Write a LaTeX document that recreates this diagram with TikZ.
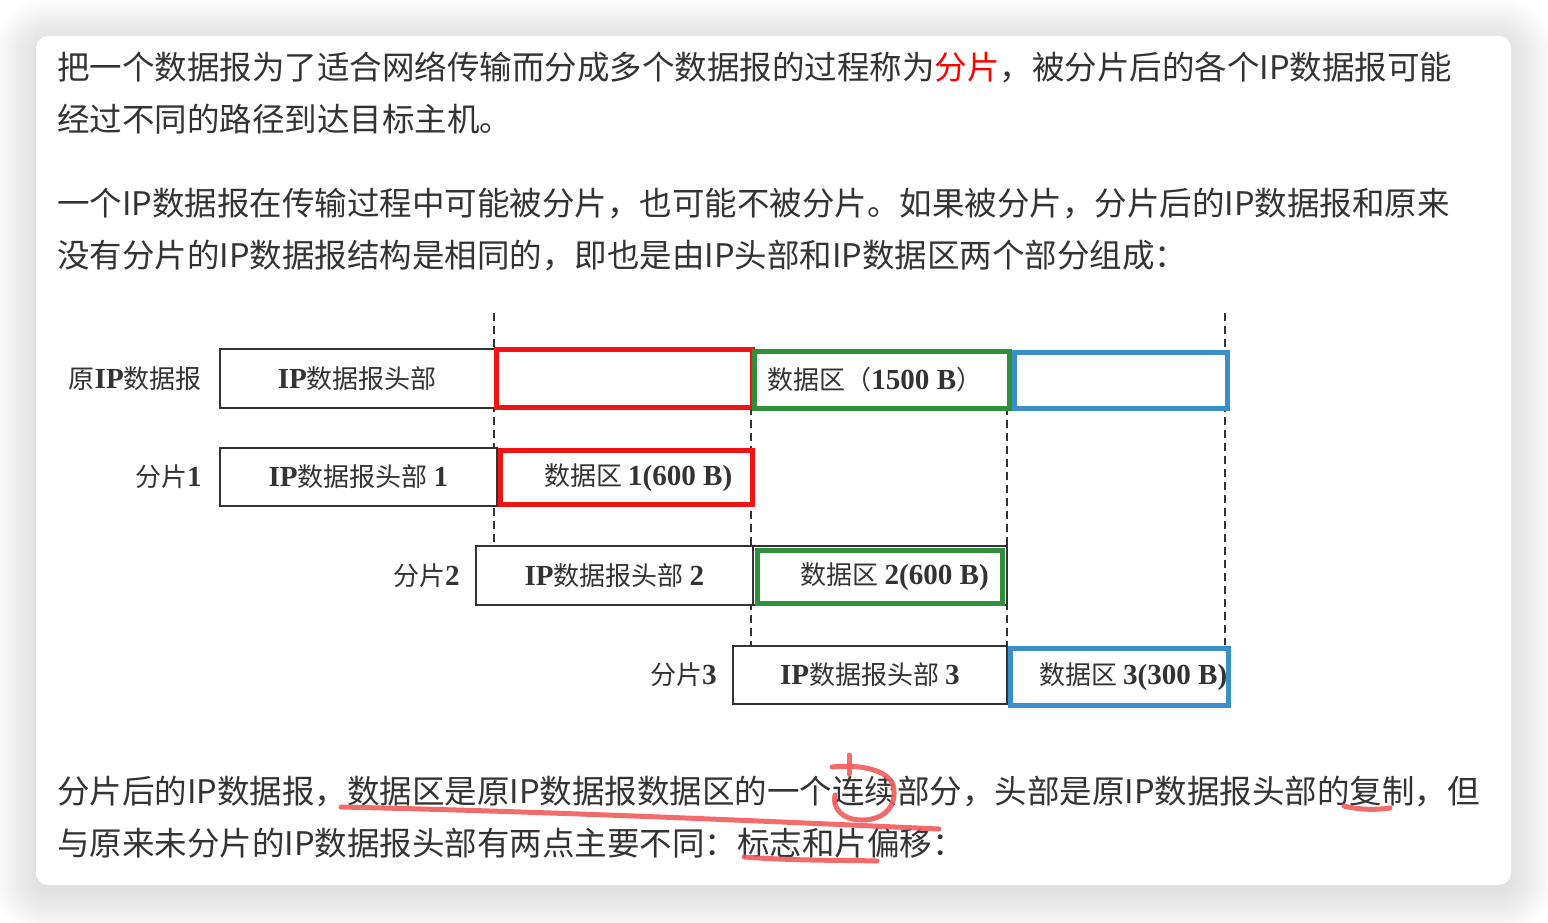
\documentclass[tikz,border=0pt]{standalone}
\usepackage{fontspec}
\setmainfont{Noto Sans CJK SC}
\newfontfamily\tnr[Scale=1.12]{Liberation Serif}
\usetikzlibrary{positioning}
\definecolor{ink}{HTML}{333333}
\definecolor{keyred}{HTML}{FF0000}
\definecolor{cutred}{HTML}{F21212}
\definecolor{cutgreen}{HTML}{2F8F3B}
\definecolor{cutblue}{HTML}{3A8FC8}
\definecolor{pen}{HTML}{F25C5C}
\newcommand{\serifb}[1]{{\tnr\bfseries #1}}

\begin{document}
\begin{tikzpicture}[x=1pt,y=-1pt,
  para/.style={anchor=base west,inner sep=0pt,text=ink,font=\fontsize{32.5}{40}\selectfont},
  lbl/.style={inner sep=0pt,text=ink,font=\fontsize{26}{30}\selectfont},
  hdrbox/.style={draw=ink,line width=1.8pt,fill=white,anchor=north west,inner sep=0pt,
    text=ink,font=\fontsize{26}{30}\selectfont},
  cutbox/.style={draw=#1,line width=4.5pt,fill=white,anchor=north west,inner sep=0pt},
  guide/.style={draw=ink,line width=1.6pt,dash pattern=on 8pt off 5pt},
  penline/.style={draw=pen,line width=5pt,line cap=round,line join=round,opacity=0.9}]
  \useasboundingbox (0,0) rectangle (1548,922);
  \fill[white] (0,0) rectangle (1548,922);

  % Schatten und Karte
  \foreach \s [evaluate=\s as \r using 12+1.5*\s] in {1,...,30}
    \fill[black,opacity=0.0055,rounded corners=\r pt]
      (36-1.5*\s,42-1.5*\s) rectangle (1511+1.5*\s,891+1.5*\s);
  \fill[white,rounded corners=12pt] (36,36) rectangle (1511,885);

  % Absaetze
  \node[para] (p1) at (57,79) {把一个数据报为了适合网络传输而分成多个数据报的过程称为{\color{keyred}分片}，被分片后的各个IP数据报可能};
  \node[para] (p2) at (57,131) {经过不同的路径到达目标主机。};
  \node[para] (p3) at (57,215) {一个IP数据报在传输过程中可能被分片，也可能不被分片。如果被分片，分片后的IP数据报和原来};
  \node[para] (p4) at (57,267) {没有分片的IP数据报结构是相同的，即也是由IP头部和IP数据区两个部分组成：};
  \node[para] (p5) at (57,803) {分片后的IP数据报，数据区是原IP数据报数据区的一个连续部分，头部是原IP数据报头部的复制，但};
  \node[para] (p6) at (57,855) {与原来未分片的IP数据报头部有两点主要不同：标志和片偏移：};

  % Hilfslinien
  \coordinate (g1a) at (494,313);  \coordinate (g1b) at (494,545);
  \coordinate (g2a) at (751,407);  \coordinate (g2b) at (751,645);
  \coordinate (g3a) at (1007,407); \coordinate (g3b) at (1007,645);
  \coordinate (g4a) at (1225,313); \coordinate (g4b) at (1225,645);
  \draw[guide] (g1a) -- (g1b);
  \draw[guide] (g2a) -- (g2b);
  \draw[guide] (g3a) -- (g3b);
  \draw[guide] (g4a) -- (g4b);

  % Original
  \node[hdrbox,minimum width=275pt,minimum height=59pt] (hdr0) at (219,348) {\serifb{IP}数据报头部};
  \node[cutbox=cutred,minimum width=256pt,minimum height=58pt] (red0) at (494,347) {};
  \node[cutbox=cutgreen,minimum width=255pt,minimum height=57pt] (green0) at (752,349) {};
  \node[cutbox=cutblue,minimum width=213pt,minimum height=56pt] (blue0) at (1012,350) {};
  \node[lbl,xshift=-7pt] (t0) at (green0) {数据区（\serifb{1500 B}）};
  \node[lbl,left=17pt of hdr0] (n0) {原\serifb{IP}数据报};

  % Fragment 1
  \node[hdrbox,minimum width=277pt,minimum height=58pt] (hdr1) at (219,447) {\serifb{IP}数据报头部 \serifb{1}};
  \node[cutbox=cutred,minimum width=252pt,minimum height=54pt] (red1) at (498,448) {};
  \node[lbl,xshift=12pt] (t1) at (red1) {数据区 \serifb{1(600 B)}};
  \node[lbl,left=17pt of hdr1] (n1) {分片\serifb{1}};

  % Fragment 2
  \node[hdrbox,minimum width=277pt,minimum height=59pt] (hdr2) at (475,545) {\serifb{IP}数据报头部 \serifb{2}};
  \node[hdrbox,minimum width=254pt,minimum height=59pt] (rest2) at (752,545) {};
  \node[cutbox=cutgreen,minimum width=245pt,minimum height=53pt] (green2) at (755,548) {};
  \node[lbl,xshift=15pt] (t2) at (green2) {数据区 \serifb{2(600 B)}};
  \node[lbl,left=15pt of hdr2] (n2) {分片\serifb{2}};

  % Fragment 3
  \node[hdrbox,minimum width=274pt,minimum height=58pt] (hdr3) at (732,645) {\serifb{IP}数据报头部 \serifb{3}};
  \node[cutbox=cutblue,minimum width=218pt,minimum height=57pt] (blue3) at (1008,646) {};
  \node[lbl,xshift=14pt] (t3) at (blue3) {数据区 \serifb{3(300 B)}};
  \node[lbl,left=15pt of hdr3] (n3) {分片\serifb{3}};

  % Anmerkungen von Hand
  \draw[penline] (341,807) .. controls (520,811) and (700,818) .. (939,829);
  \draw[penline] (849,755) -- (849,774);
  \draw[penline] (832,767) .. controls (860,764) and (888,770) .. (893,785)
    .. controls (898,805) and (885,820) .. (862,820)
    .. controls (842,820) and (832,808) .. (835,795);
  \draw[penline] (1344,806) .. controls (1360,810) and (1376,810) .. (1390,808);
  \draw[penline] (744,857) .. controls (800,861) and (840,860) .. (877,861);
\end{tikzpicture}
\end{document}
